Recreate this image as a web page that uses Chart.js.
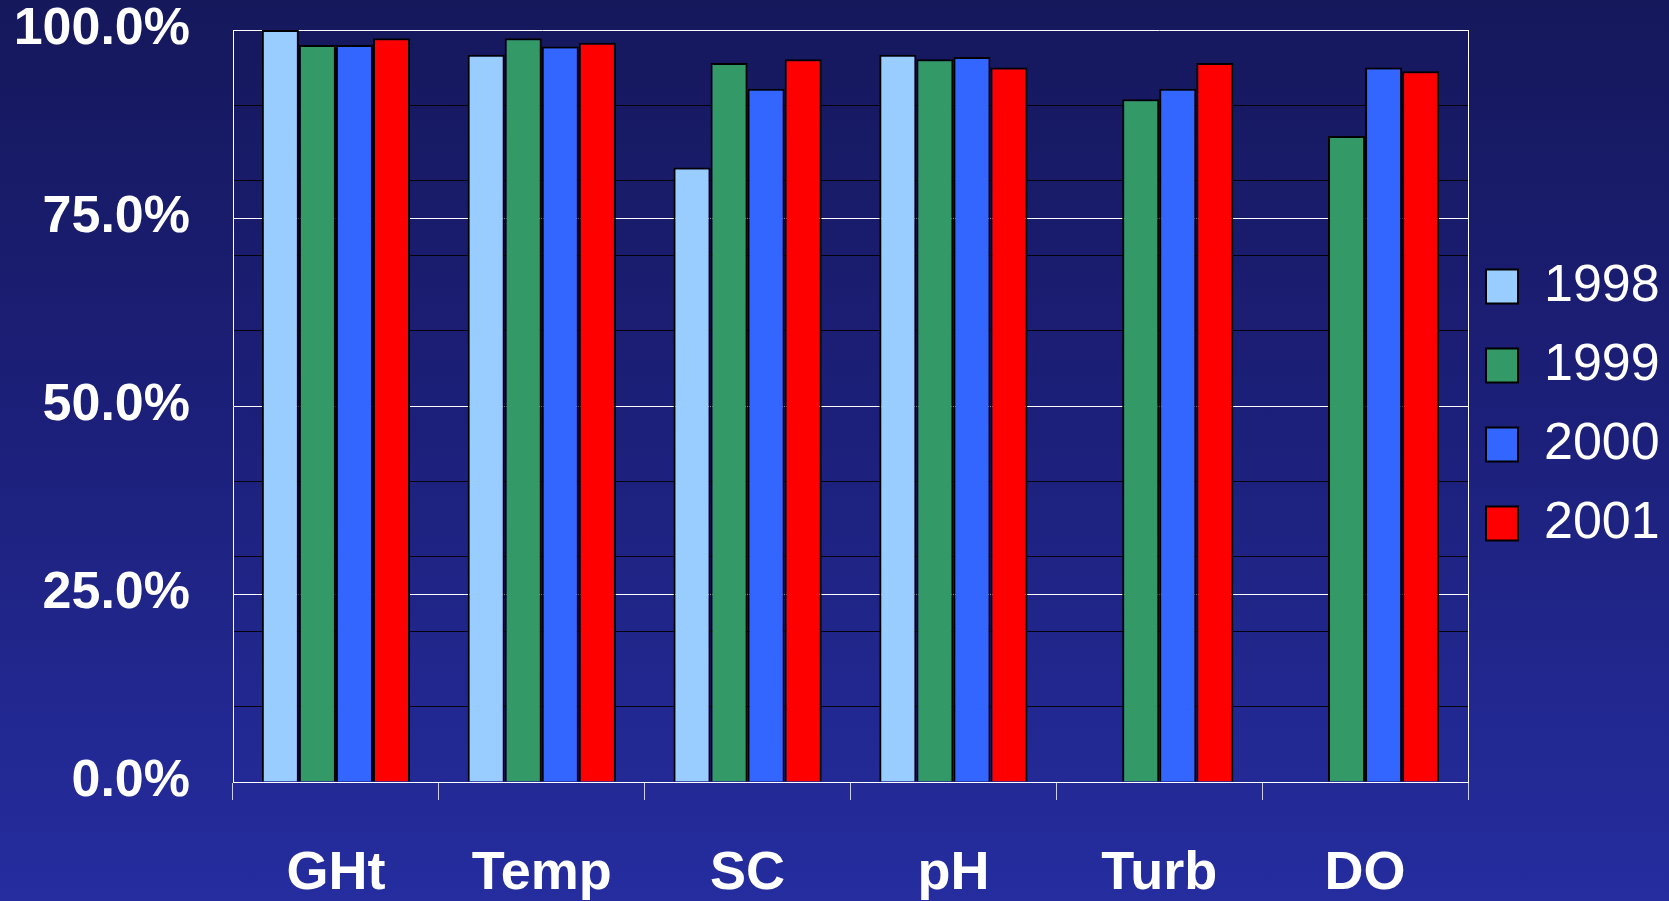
<!DOCTYPE html>
<html>
<head>
<meta charset="utf-8">
<title>Data completeness by parameter, 1998–2001</title>
<script src="https://cdn.jsdelivr.net/npm/chart.js@4/dist/chart.umd.min.js"></script>
<style>
  html, body { margin: 0; padding: 0; }
  body {
    width: 1669px; height: 901px; overflow: hidden;
    background: linear-gradient(to bottom, #15185B 0%, #1C1F78 45%, #252D9F 100%);
  }
  #wrap { position: relative; width: 1669px; height: 901px; }
</style>
</head>
<body>
<div id="wrap"><canvas id="chart" width="1669" height="901"></canvas></div>
<script>
// Parameters measured at each site
const categories = ['GHt', 'Temp', 'SC', 'pH', 'Turb', 'DO'];

// Percent of complete record per year (null = parameter not collected)
const values1998 = [100.0, 96.7, 81.7, 96.7, null, null];
const values1999 = [98.0, 98.9, 95.6, 96.1, 90.8, 85.9];
const values2000 = [98.0, 97.8, 92.2, 96.4, 92.2, 95.0];
const values2001 = [98.9, 98.3, 96.1, 95.0, 95.6, 94.5];

const seriesNames = ['1998', '1999', '2000', '2001'];
const seriesColors = ['#99CCFF', '#339966', '#3366FF', '#FF0000'];
const seriesValues = [values1998, values1999, values2000, values2001];

// Y axis: labelled every 25 %, minor rules every 10 %
const yMin = 0;
const yMax = 100;
const yStep = 5;
const yLabelEvery = 25;
const yMinorEvery = 10;

const FONT = "'Liberation Sans', Arial, Helvetica, sans-serif";

const datasets = seriesNames.map((name, i) => ({
  label: name,
  data: seriesValues[i],
  backgroundColor: seriesColors[i],
  borderColor: '#000000',
  borderWidth: 2,
  borderSkipped: 'start',
  categoryPercentage: 0.72,
  barPercentage: 1.0
}));

// Pull the legend block a little closer to the plot frame
const legendNudge = {
  id: 'legendNudge',
  afterLayout(chart) {
    const lg = chart.legend;
    if (!lg) return;
    lg.left -= 9; lg.right -= 9;
    lg.top -= 1; lg.bottom -= 1;
  }
};

new Chart(document.getElementById('chart'), {
  type: 'bar',
  data: { labels: categories, datasets },
  plugins: [legendNudge],
  options: {
    responsive: false,
    animation: false,
    layout: { padding: { top: 30, right: 0, bottom: 0, left: 0 } },
    plugins: {
      title: { display: false },
      tooltip: { enabled: false },
      legend: {
        display: true,
        position: 'right',
        align: 'center',
        fullSize: false,
        maxWidth: 201,
        labels: {
          color: '#FFFFFF',
          font: { family: FONT, size: 52, weight: 'normal' },
          boxWidth: 32,
          boxHeight: 34,
          padding: 27
        }
      }
    },
    scales: {
      x: {
        offset: true,
        grid: {
          offset: true,
          drawOnChartArea: true,
          drawTicks: true,
          tickLength: 18,
          lineWidth: 1,
          // only the closing line on the right edge of the plot is drawn inside
          color: (c) => (c.type === 'tick' ? 'rgba(0,0,0,0)' : '#FFFFFF'),
          tickColor: 'rgba(235,235,245,0.85)'
        },
        border: { display: true, color: '#FFFFFF', width: 1 },
        ticks: {
          color: '#FFFFFF',
          font: { family: FONT, size: 54, weight: 'bold', lineHeight: 1.2 },
          padding: 42,
          maxRotation: 0,
          autoSkip: false
        },
        afterFit: (scale) => { scale.height = 119; }
      },
      y: {
        min: yMin,
        max: yMax,
        grid: {
          drawTicks: false,
          lineWidth: 1,
          color: (c) => {
            const v = c.tick ? c.tick.value : null;
            if (v === null) return 'rgba(0,0,0,0)';
            if (v % yLabelEvery === 0) return '#FFFFFF';
            if (v % yMinorEvery === 0) return 'rgba(0,0,0,0.9)';
            return 'rgba(0,0,0,0)';
          }
        },
        border: { display: true, color: '#FFFFFF', width: 1 },
        ticks: {
          stepSize: yStep,
          autoSkip: false,
          color: '#FFFFFF',
          padding: 43,
          font: { family: FONT, size: 52, weight: 'bold', lineHeight: 1.0 },
          callback: (v) => (v % yLabelEvery === 0 ? v.toFixed(1) + '%' : '')
        },
        afterFit: (scale) => {
          scale.width = 233;
          // labels may overhang the frame; keep the plot top at the layout padding
          scale.paddingTop = 0;
          scale.paddingBottom = 0;
        }
      }
    }
  }
});
</script>
</body>
</html>
